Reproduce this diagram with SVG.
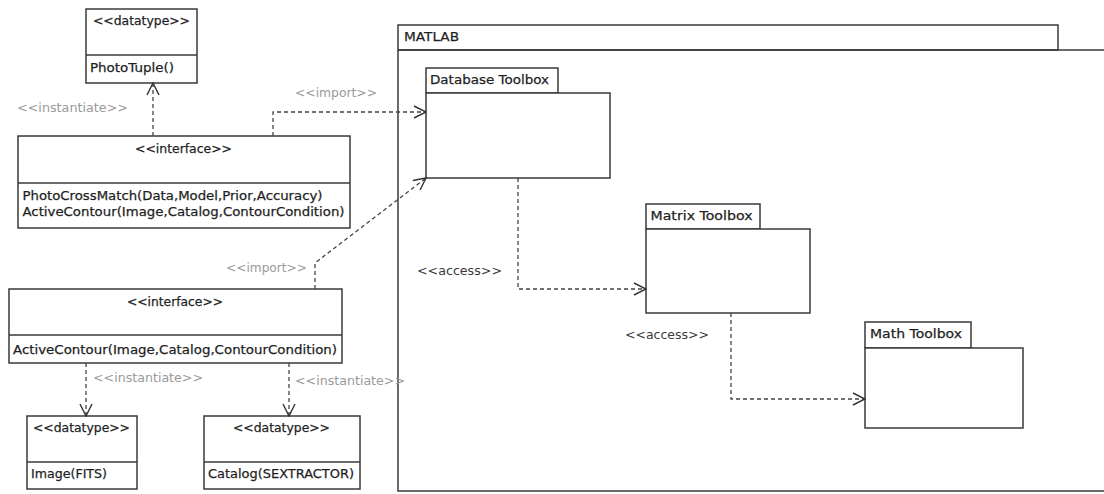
<svg xmlns="http://www.w3.org/2000/svg" width="1104" height="494" viewBox="0 0 1104 494">
<style>
.box{fill:#fff;stroke:#3a3a3a;stroke-width:1.5}
.ln{fill:none;stroke:#3a3a3a;stroke-width:1.5}
.t{font-family:"DejaVu Sans","Liberation Sans",sans-serif;font-size:13px;fill:#1e1e1e;stroke:#1e1e1e;stroke-width:0.25}
.lbl{font-family:"DejaVu Sans","Liberation Sans",sans-serif;font-size:12px;fill:#9a9a9a}
.acc{font-family:"DejaVu Sans","Liberation Sans",sans-serif;font-size:13px;fill:#3a3a3a}
.dash{fill:none;stroke:#444;stroke-width:1.3;stroke-dasharray:4 3}
</style>
<defs>
<marker id="open" viewBox="0 0 14 14" refX="13" refY="7" markerWidth="14" markerHeight="14" markerUnits="userSpaceOnUse" orient="auto">
<path d="M1,1 L13,7 L1,13" fill="none" stroke="#333" stroke-width="1.4"/>
</marker>
</defs>
<rect width="1104" height="494" fill="#fff"/>

<g id="matlab">
<rect class="box" x="398" y="25" width="660" height="25"/>
<path class="ln" d="M398,50 H1110 M398,50 V491 H1110"/>
<text class="t" x="404" y="41" textLength="55" lengthAdjust="spacingAndGlyphs">MATLAB</text>
</g>

<g id="database">
<rect class="box" x="426" y="68" width="132" height="25"/>
<rect class="box" x="426" y="93" width="184" height="85"/>
<text class="t" x="430" y="84" textLength="119" lengthAdjust="spacingAndGlyphs">Database Toolbox</text>
</g>

<g id="matrix">
<rect class="box" x="646" y="204" width="114" height="25"/>
<rect class="box" x="646" y="229" width="164" height="84"/>
<text class="t" x="650.5" y="220" textLength="102" lengthAdjust="spacingAndGlyphs">Matrix Toolbox</text>
</g>

<g id="math">
<rect class="box" x="865" y="322" width="106" height="26"/>
<rect class="box" x="865" y="348" width="158" height="80"/>
<text class="t" x="870" y="338" textLength="92" lengthAdjust="spacingAndGlyphs">Math Toolbox</text>
</g>

<g id="phototuple">
<rect class="box" x="86" y="9" width="111" height="74"/>
<line class="ln" x1="86" y1="55" x2="197" y2="55"/>
<text class="t" x="93" y="25" textLength="97" lengthAdjust="spacingAndGlyphs">&lt;&lt;datatype&gt;&gt;</text>
<text class="t" x="90" y="72" textLength="84" lengthAdjust="spacingAndGlyphs">PhotoTuple()</text>
</g>

<g id="interface1">
<rect class="box" x="18" y="136" width="332" height="92"/>
<line class="ln" x1="18" y1="183" x2="350" y2="183"/>
<text class="t" x="135" y="153" textLength="97" lengthAdjust="spacingAndGlyphs">&lt;&lt;interface&gt;&gt;</text>
<text class="t" x="22.5" y="200" textLength="300" lengthAdjust="spacingAndGlyphs">PhotoCrossMatch(Data,Model,Prior,Accuracy)</text>
<text class="t" x="22.5" y="216" textLength="322" lengthAdjust="spacingAndGlyphs">ActiveContour(Image,Catalog,ContourCondition)</text>
</g>

<g id="interface2">
<rect class="box" x="9" y="289" width="333" height="74"/>
<line class="ln" x1="9" y1="335" x2="342" y2="335"/>
<text class="t" x="127" y="306" textLength="96" lengthAdjust="spacingAndGlyphs">&lt;&lt;interface&gt;&gt;</text>
<text class="t" x="13" y="354" textLength="324" lengthAdjust="spacingAndGlyphs">ActiveContour(Image,Catalog,ContourCondition)</text>
</g>

<g id="image">
<rect class="box" x="27" y="416" width="110" height="73"/>
<line class="ln" x1="27" y1="462" x2="137" y2="462"/>
<text class="t" x="33" y="432" textLength="97" lengthAdjust="spacingAndGlyphs">&lt;&lt;datatype&gt;&gt;</text>
<text class="t" x="31" y="478" textLength="76" lengthAdjust="spacingAndGlyphs">Image(FITS)</text>
</g>

<g id="catalog">
<rect class="box" x="204" y="416" width="156" height="73"/>
<line class="ln" x1="204" y1="462" x2="360" y2="462"/>
<text class="t" x="233" y="432" textLength="97" lengthAdjust="spacingAndGlyphs">&lt;&lt;datatype&gt;&gt;</text>
<text class="t" x="208" y="478" textLength="146" lengthAdjust="spacingAndGlyphs">Catalog(SEXTRACTOR)</text>
</g>

<g id="connectors">
<path class="dash" d="M153,136 V83" marker-end="url(#open)"/>
<text class="lbl" x="17" y="112" textLength="111" lengthAdjust="spacingAndGlyphs">&lt;&lt;instantiate&gt;&gt;</text>

<path class="dash" d="M273,136 V112 H426" marker-end="url(#open)"/>
<text class="lbl" x="295" y="97" textLength="82" lengthAdjust="spacingAndGlyphs">&lt;&lt;import&gt;&gt;</text>

<path class="dash" d="M315,289 V263 L426,178" marker-end="url(#open)"/>
<text class="lbl" x="226" y="272" textLength="81" lengthAdjust="spacingAndGlyphs">&lt;&lt;import&gt;&gt;</text>

<path class="dash" d="M86,363 V416" marker-end="url(#open)"/>
<text class="lbl" x="93" y="382" textLength="110" lengthAdjust="spacingAndGlyphs">&lt;&lt;instantiate&gt;&gt;</text>

<path class="dash" d="M289,363 V416" marker-end="url(#open)"/>
<text class="lbl" x="295" y="385" textLength="110" lengthAdjust="spacingAndGlyphs">&lt;&lt;instantiate&gt;&gt;</text>

<path class="dash" d="M518,178 V289 H646" marker-end="url(#open)"/>
<text class="acc" x="417" y="275" textLength="85" lengthAdjust="spacingAndGlyphs">&lt;&lt;access&gt;&gt;</text>

<path class="dash" d="M731,313 V399 H865" marker-end="url(#open)"/>
<text class="acc" x="625" y="339" textLength="84" lengthAdjust="spacingAndGlyphs">&lt;&lt;access&gt;&gt;</text>
</g>
</svg>
